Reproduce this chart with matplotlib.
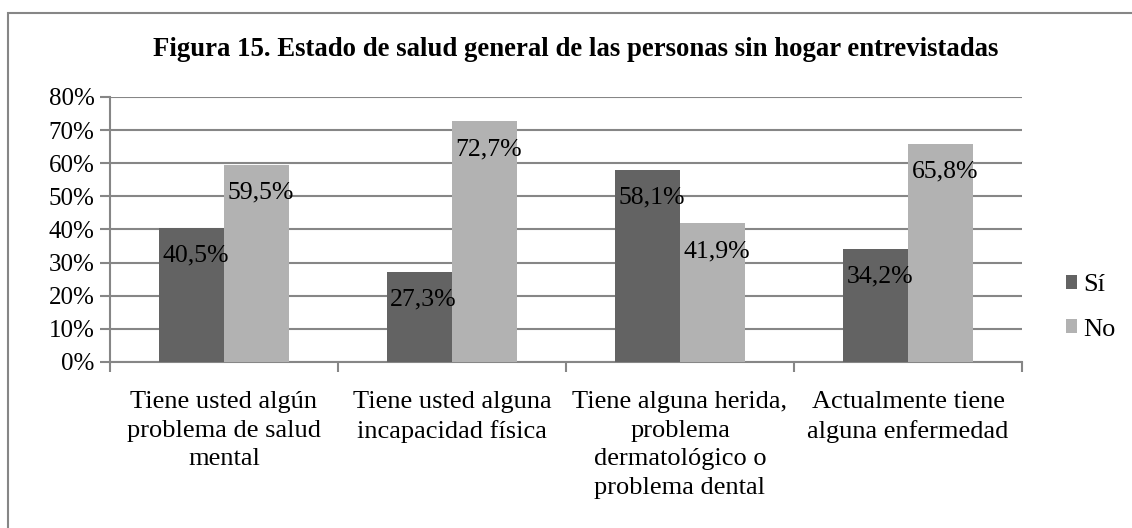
import numpy as np
import matplotlib
matplotlib.use("Agg")
import matplotlib.pyplot as plt
from matplotlib.patches import Rectangle

# data
categories = ['Tiene usted algún\nproblema de salud\nmental',
              'Tiene usted alguna\nincapacidad física',
              'Tiene alguna herida,\nproblema\ndermatológico o\nproblema dental',
              'Actualmente tiene\nalguna enfermedad']
si_vals = [40.5, 27.3, 58.1, 34.2]
no_vals = [59.5, 72.7, 41.9, 65.8]
series_names = ['Sí', 'No']
yticks = [0, 10, 20, 30, 40, 50, 60, 70, 80]

plt.rcParams['font.family'] = ['Liberation Serif', 'DejaVu Serif']

W, H = 1132, 528
fig = plt.figure(figsize=(W / 100, H / 100), dpi=100)
fig.patch.set_facecolor('white')

# chart border (cut off at right and bottom like the reference)
fig.patches.append(Rectangle((8 / W, -0.1), 1.2, (H - 13) / H + 0.1,
                             transform=fig.transFigure, fill=False,
                             edgecolor='#868686', linewidth=1.5))

ax = fig.add_axes([110 / W, (H - 362) / H, 912 / W, 265 / H])

x = np.arange(len(categories))
w = 65 / 228
c_si = '#636363'
c_no = '#b2b2b2'
grid_c = '#868686'

b1 = ax.bar(x - w / 2, si_vals, w, color=c_si, zorder=3, label=series_names[0])
b2 = ax.bar(x + w / 2, no_vals, w, color=c_no, zorder=3, label=series_names[1])

for bars, vals in [(b1, si_vals), (b2, no_vals)]:
    for r, v in zip(bars, vals):
        ax.annotate(f'{v:.1f}%'.replace('.', ','),
                    (r.get_x() + r.get_width() / 2, v),
                    xytext=(3, -20), textcoords='offset points',
                    ha='center', va='center', fontsize=18.5, color='black', zorder=5)

ax.set_xlim(-0.5, len(categories) - 0.5)
ax.set_ylim(0, 80)
ax.set_yticks(yticks)
ax.set_yticklabels([f'{t}%' for t in yticks], fontsize=18)
ax.yaxis.grid(True, color=grid_c, linewidth=1.5, zorder=0)
ax.tick_params(axis='y', length=7, width=1.5, color=grid_c, pad=4)

ax.set_xticks(x)
ax.set_xticklabels(categories, fontsize=19, linespacing=1.38)
ax.tick_params(axis='x', which='major', length=0, pad=21)
ax.set_xticks(np.arange(-0.5, len(categories)), minor=True)
ax.tick_params(axis='x', which='minor', length=7, width=1.5, color=grid_c)

for s in ['top', 'right']:
    ax.spines[s].set_visible(False)
for s in ['left', 'bottom']:
    ax.spines[s].set_color(grid_c)
    ax.spines[s].set_linewidth(1.5)

fig.text(0.5 * (155 + 997) / W, 1 - 49 / H,
         'Figura 15. Estado de salud general de las personas sin hogar entrevistadas',
         ha='center', va='center', fontsize=19.3, fontweight='bold')

leg = ax.legend(loc='center left', bbox_to_anchor=(1.037, 0.206), frameon=False,
                fontsize=19, handlelength=0.42, handleheight=0.42,
                handletextpad=0.22, labelspacing=0.85, borderaxespad=0)

fig.savefig('out.png', dpi=100)
